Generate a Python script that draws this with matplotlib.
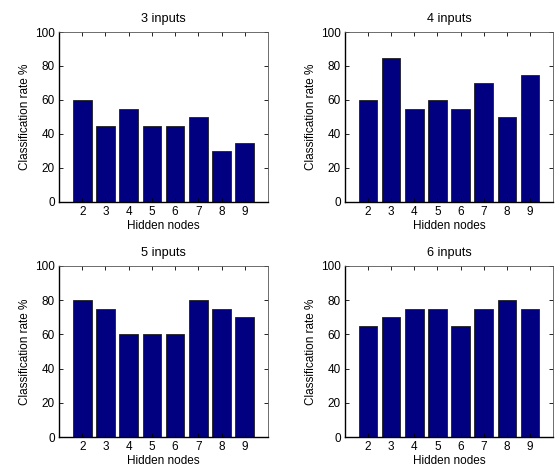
import matplotlib.pyplot as plt

plt.rcParams["font.family"] = ["Liberation Sans", "DejaVu Sans"]
plt.rcParams["font.size"] = 8.5

# Data
hidden_nodes = [2, 3, 4, 5, 6, 7, 8, 9]
titles = ["3 inputs", "4 inputs", "5 inputs", "6 inputs"]
rate_3 = [60, 45, 55, 45, 45, 50, 30, 35]
rate_4 = [60, 85, 55, 60, 55, 70, 50, 75]
rate_5 = [80, 75, 60, 60, 60, 80, 75, 70]
rate_6 = [65, 70, 75, 75, 65, 75, 80, 75]
rates = [rate_3, rate_4, rate_5, rate_6]

W, H = 557, 474
fig = plt.figure(figsize=(W / 100, H / 100), dpi=100)

# axes boxes in pixels: left, right, top, bottom
boxes = [(59, 268, 32, 202), (345, 553, 32, 202),
         (59, 268, 266, 437), (345, 553, 266, 437)]

for (l, r, t, b), title, vals in zip(boxes, titles, rates):
    ax = fig.add_axes([l / W, 1 - b / H, (r - l) / W, (b - t) / H])
    ax.bar(hidden_nodes, vals, width=0.8, color="#000080",
           edgecolor="#202020", linewidth=0.6)
    ax.set_xlim(1, 10)
    ax.set_ylim(0, 100)
    ax.set_xticks(hidden_nodes)
    ax.set_yticks(range(0, 101, 20))
    ax.tick_params(direction="in", top=True, right=True, length=3, width=0.6,
                   pad=3, labelsize=8.5)
    for side in ["top", "right"]:
        ax.spines[side].set_linewidth(0.6)
        ax.spines[side].set_color("#555555")
    for side in ["left", "bottom"]:
        ax.spines[side].set_linewidth(1.0)
    ax.set_title(title, fontsize=9.2, pad=7)
    ax.set_xlabel("Hidden nodes", labelpad=1)
    ax.set_ylabel("Classification rate %", labelpad=3)

fig.savefig("out.png", dpi=100)
